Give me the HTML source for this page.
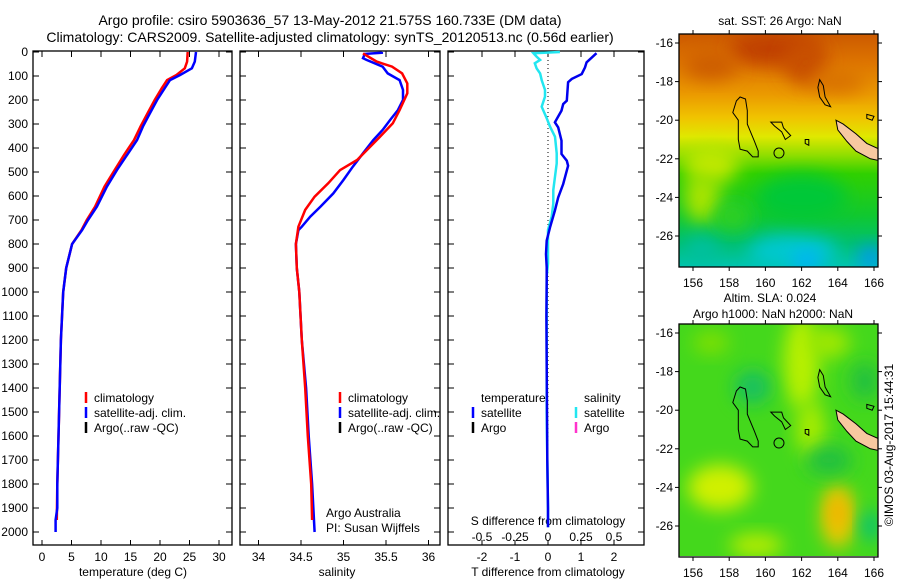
<!DOCTYPE html>
<html><head><meta charset="utf-8"><style>
html,body{margin:0;padding:0;background:#fff;}
svg{display:block;font-family:"Liberation Sans",sans-serif;}
text{fill:#000;}
</style></head><body>
<svg id="c" width="900" height="580" viewBox="0 0 900 580" xmlns="http://www.w3.org/2000/svg">
<defs>
<linearGradient id="sstg" x1="0" y1="0" x2="0" y2="1">
<stop offset="0" stop-color="#cc5a00"/><stop offset="0.12" stop-color="#dd7400"/>
<stop offset="0.26" stop-color="#eb9a00"/><stop offset="0.36" stop-color="#f0c400"/>
<stop offset="0.44" stop-color="#e0e800"/><stop offset="0.52" stop-color="#90de00"/>
<stop offset="0.6" stop-color="#30d000"/><stop offset="0.78" stop-color="#10c830"/>
<stop offset="0.9" stop-color="#00c070"/><stop offset="1" stop-color="#00c4b0"/>
</linearGradient>
<filter id="bl" x="-50%" y="-50%" width="200%" height="200%"><feGaussianBlur stdDeviation="9"/></filter>
<clipPath id="cm1"><rect x="679" y="34" width="199" height="233"/></clipPath>
<clipPath id="cm2"><rect x="679" y="324" width="199" height="232"/></clipPath>
</defs>
<g id="titles">
<text x="330" y="25" font-size="14" text-anchor="middle">Argo profile: csiro 5903636_57 13-May-2012 21.575S 160.733E (DM data)</text>
<text x="330" y="42" font-size="14" text-anchor="middle">Climatology: CARS2009. Satellite-adjusted climatology: synTS_20120513.nc (0.56d earlier)</text>
</g>
<g id="p1"></g>
<g id="p2"></g>
<g id="p3"></g>
<g id="m1"></g>
<g id="m2"></g>
</svg>
<script>
// ---- data ----
const depthTicks=[0,100,200,300,400,500,600,700,800,900,1000,1100,1200,1300,1400,1500,1600,1700,1800,1900,2000];
const tempTicks=[0,5,10,15,20,25,30];
const salTicks=[34,34.5,35,35.5,36];
const tdTicks=[-2,-1,0,1,2];
const sdTicks=[-0.5,-0.25,0,0.25,0.5];
const tempSatDepth=[0,40,68,96,117,151,200,255,311,367,429,492,561,644,700,742,800,900,1000,1200,1500,1800,1900,1950,2000];
const tempSat=[26.1,25.9,25.4,23.4,21.7,20.8,19.5,18.3,17.1,16.1,14.4,12.7,11.0,9.3,7.8,6.8,5.1,4.1,3.6,3.2,2.9,2.6,2.6,2.3,2.3];
const tempClimDepth=[0,40,68,96,117,151,200,255,311,367,429,492,561,644,700,742,800,900,1000,1200,1500,1800,1950];
const tempClim=[24.7,24.6,24.2,22.8,21.2,20.3,19.1,17.9,16.7,15.6,13.9,12.3,10.6,9.0,7.6,6.7,5.1,4.1,3.6,3.2,2.9,2.6,2.5];
const salSatDepth=[0,3,8,26,33,61,89,117,158,200,242,283,325,367,422,478,533,589,644,686,728,742,800,900,1000,1200,1400,1600,1800,2000];
const salSat=[35.45,35.45,35.25,35.23,35.27,35.46,35.52,35.66,35.70,35.70,35.64,35.55,35.46,35.35,35.23,35.11,35.0,34.88,34.73,34.61,34.51,34.47,34.44,34.45,34.48,34.51,34.56,34.59,34.63,34.66];
const salClimDepth=[6,40,61,89,131,172,242,297,353,450,492,547,603,658,728,800,900,1000,1200,1400,1600,1800,1950];
const salClim=[35.23,35.39,35.57,35.69,35.75,35.75,35.66,35.58,35.43,35.16,34.96,34.82,34.66,34.55,34.47,34.44,34.45,34.48,34.51,34.55,34.58,34.62,34.63];
const tdDepth=[5,43,64,92,112,126,203,217,244,293,314,369,425,453,474,494,550,606,661,731,786,842,897,953,1100,1300,1500,1700,1900,1980];
const tdVal=[1.47,1.17,1.12,1.02,0.72,0.61,0.57,0.46,0.41,0.21,0.31,0.41,0.41,0.57,0.61,0.57,0.46,0.31,0.21,0.06,-0.04,-0.06,-0.04,-0.04,-0.05,-0.04,-0.03,-0.02,0.0,0.0];
const sdDepth=[0,5,19,33,47,68,89,117,158,186,228,276,311,353,422,464,519,575,631,686,742,811,881,936,1100,1300,1500,1700,1900,1980];
const sdVal=[0.09,-0.11,-0.086,-0.06,-0.1,-0.086,-0.06,-0.048,-0.023,-0.023,-0.048,-0.01,0.015,0.053,0.066,0.066,0.053,0.04,0.04,0.028,0.0,0.0,0.0,-0.01,-0.01,-0.01,-0.01,-0.005,0.0,0.0];
const mapLonTicks=[156,158,160,162,164,166];
const mapLatTicks=[-16,-18,-20,-22,-24,-26];

const NS='http://www.w3.org/2000/svg';
function mk(p,tag,at){const e=document.createElementNS(NS,tag);for(const k in at)e.setAttribute(k,at[k]);p.appendChild(e);return e;}
const TOP=52,BOT=545,Y0=52,YS=0.24;
const yD=d=>Y0+d*YS;
function panel(g,x0,x1,xf,xt,right){
  const r=mk(g,'rect',{x:x0,y:TOP-1,width:x1-x0,height:BOT-TOP+1,fill:'none',stroke:'#000','stroke-width':1.3});
  
  depthTicks.forEach(d=>{
    const y=yD(d);
    mk(g,'line',{x1:x0,x2:x0+6,y1:y,y2:y,stroke:'#000'});
    mk(g,'line',{x1:x1-6,x2:x1,y1:y,y2:y,stroke:'#000'});
  });
  xt.forEach(v=>{const x=xf(v);
    mk(g,'line',{x1:x,x2:x,y1:TOP-1,y2:TOP+5,stroke:'#000'});
    mk(g,'line',{x1:x,x2:x,y1:BOT-5,y2:BOT,stroke:'#000'});
  });
}
function line(g,xs,ds,xf,col,w,name){
  const pts=xs.map((v,i)=>xf(v).toFixed(1)+','+yD(ds[i]).toFixed(1)).join(' ');
  const p=mk(g,'polyline',{points:pts,fill:'none',stroke:col,'stroke-width':w});
  
}
function txt(g,x,y,s,size,anchor,name){const t=mk(g,'text',{x:x,y:y,'font-size':size,'text-anchor':anchor||'start'});t.textContent=s;
  return t;}
function legItem(g,x,y,col,s,name){mk(g,'line',{x1:x,x2:x,y1:y-10,y2:y+1,stroke:col,'stroke-width':2.5});txt(g,x+8,y,s,12,'start',name);}

// panel 1
const p1=document.getElementById('p1');
const xT=v=>42+v*5.9;
panel(p1,33,232,xT,tempTicks);
depthTicks.forEach(d=>txt(p1,28,yD(d)+4,String(d),12,'end','y-tick-label'));
tempTicks.forEach(v=>txt(p1,xT(v),561,String(v),12,'middle','x-tick-label'));
txt(p1,133,576,'temperature (deg C)',12,'middle','x-axis-title');
line(p1,tempClim,tempClimDepth,xT,'#ff0000',2.5,'climatology-line');
line(p1,tempSat,tempSatDepth,xT,'#0000ff',2.5,'satellite-line');
legItem(p1,86,402,'#ff0000','climatology','legend-climatology');
legItem(p1,86,417,'#0000ff','satellite-adj. clim.','legend-satellite');
legItem(p1,86,432,'#000','Argo(..raw -QC)','legend-argo');

// panel 2
const p2=document.getElementById('p2');
const xS=v=>258.5+(v-34)*85;
panel(p2,240,440,xS,salTicks);
salTicks.forEach(v=>txt(p2,xS(v),561,String(v),12,'middle','x-tick-label'));
txt(p2,337,576,'salinity',12,'middle','x-axis-title');
line(p2,salSat,salSatDepth,xS,'#0000ff',2.5,'satellite-line');
line(p2,salClim,salClimDepth,xS,'#ff0000',2.5,'climatology-line');
legItem(p2,340,402,'#ff0000','climatology','legend-climatology');
legItem(p2,340,417,'#0000ff','satellite-adj. clim.','legend-satellite');
legItem(p2,340,432,'#000','Argo(..raw -QC)','legend-argo');
txt(p2,326,517,'Argo Australia',12,'start','credit-line-1');
txt(p2,326,532,'PI: Susan Wijffels',12,'start','credit-line-2');

// panel 3
const p3=document.getElementById('p3');
const xTD=v=>548+v*33, xSD=v=>548+v*132;
panel(p3,448,644,xTD,tdTicks);
mk(p3,'line',{x1:548,x2:548,y1:52,y2:500,stroke:'#000','stroke-dasharray':'1,3'});
tdTicks.forEach(v=>txt(p3,xTD(v),561,String(v),12,'middle','x-tick-label'));
sdTicks.forEach(v=>txt(p3,xSD(v),541,String(v),12,'middle','s-tick-label'));
txt(p3,548,525,'S difference from climatology',12,'middle','s-axis-title');
txt(p3,548,576,'T difference from climatology',12,'middle','x-axis-title');
line(p3,sdVal,sdDepth,xSD,'#22e6f0',2.5,'salinity-diff-line');
line(p3,tdVal,tdDepth,xTD,'#0000ee',2.5,'temperature-diff-line');
txt(p3,481,402,'temperature',12,'start','legend-temperature-head');
txt(p3,584,402,'salinity',12,'start','legend-salinity-head');
legItem(p3,473,417,'#0000ff','satellite','legend-t-satellite');
legItem(p3,473,432,'#000','Argo','legend-t-argo');
legItem(p3,576,417,'#22e6f0','satellite','legend-s-satellite');
legItem(p3,576,432,'#ff33cc','Argo','legend-s-argo');

// maps
function drawMap(g,yTop,clip,kind){
  const X=lon=>693+(lon-156)*18.1, Y=lat=>yTop+9+(-16-lat)*19.3;
  const gg=mk(g,'g',{'clip-path':'url(#'+clip+')'});
  if(kind===1){
    mk(gg,'rect',{x:679,y:yTop,width:199,height:233,fill:'url(#sstg)'});
    const blobs=[[160.5,-16.3,2.5,0.9,'#c04000'],[162.2,-17,1.2,1.2,'#c85000'],[157,-17.2,1.5,0.7,'#cc5c00'],[164,-18,1.5,0.6,'#d87000'],
      [157,-22.3,1.5,1.0,'#c0e800'],[156.5,-24,1.0,1.3,'#a8e400'],[161.5,-26.8,2.5,0.9,'#00c8d0'],[162.3,-27.3,0.8,0.5,'#00b0ff'],
      [165.8,-27.1,0.6,0.6,'#0090ff'],[156.5,-26.7,1.0,0.7,'#00c0a0'],[162,-24,2.5,1.2,'#00c838'],[158.2,-25,1.0,0.7,'#30d020']];
    blobs.forEach(b=>mk(gg,'ellipse',{cx:X(b[0]),cy:Y(b[1]),rx:b[2]*18,ry:b[3]*19,fill:b[4],filter:'url(#bl)'}));
  } else {
    mk(gg,'rect',{x:679,y:yTop,width:199,height:233,fill:'#44d81c'});
    const blobs=[[162,-17.5,1.0,2.5,'#b8f000'],[162.5,-21,0.8,1.5,'#a8ec00'],[163.5,-16.5,1.2,0.8,'#a0e800'],[157.5,-24,1.8,1.2,'#d0f000'],
      [159.5,-27,1.5,0.6,'#b8ec00'],[164,-25.5,0.9,1.7,'#f0c800'],[164,-25.3,0.5,0.8,'#f0b000'],[159.3,-18.8,1.0,0.9,'#18c060'],
      [165.8,-26,0.5,0.8,'#00c080'],[163.5,-22.6,1.3,0.8,'#20c040'],[157,-16.5,1,0.6,'#80e000'],[165.5,-18.5,0.8,1.0,'#20c040']];
    blobs.forEach(b=>mk(gg,'ellipse',{cx:X(b[0]),cy:Y(b[1]),rx:b[2]*18,ry:b[3]*19,fill:b[4],filter:'url(#bl)'}));
  }
  const poly=(pts,fill,name)=>{const p=mk(gg,'polygon',{points:pts.map(q=>X(q[0]).toFixed(1)+','+Y(q[1]).toFixed(1)).join(' '),fill:fill,stroke:'#000','stroke-width':1});
    };
  poly([[158.6,-18.8],[158.9,-18.9],[159.0,-19.5],[159.0,-20.2],[159.4,-21.1],[159.6,-21.6],[159.6,-21.9],[159.3,-21.9],[159.0,-21.6],[158.6,-21.5],[158.5,-21.0],[158.5,-20.0],[158.2,-19.6],[158.4,-19.0]],'none','reef-contour');
  poly([[160.3,-20.1],[160.9,-20.1],[161.0,-20.4],[161.4,-20.8],[161.1,-21.0],[160.9,-20.6],[160.5,-20.3]],'none','reef-contour');
  poly([[163.0,-17.9],[163.2,-18.2],[163.3,-18.8],[163.6,-19.3],[163.3,-19.2],[163.0,-18.8],[162.9,-18.3]],'none','reef-contour');
  poly([[162.2,-21.0],[162.4,-21.0],[162.4,-21.3],[162.2,-21.2]],'none','reef-contour');
  poly([[165.6,-19.7],[166.0,-19.8],[165.9,-20.0],[165.6,-19.9]],'none','reef-contour');
  mk(gg,'ellipse',{cx:X(160.75),cy:Y(-21.7),rx:5,ry:5,fill:'none',stroke:'#000'});
  poly([[163.9,-20.0],[164.3,-20.2],[165.0,-20.7],[165.6,-21.2],[166.3,-21.5],[166.3,-22.1],[165.8,-22.0],[165.0,-21.6],[164.5,-21.1],[164.0,-20.5]],'#f8c8a0','new-caledonia');
  const fr=mk(g,'rect',{x:679,y:yTop,width:199,height:233,fill:'none',stroke:'#000','stroke-width':1.3});
  
  mapLonTicks.forEach(v=>{const x=X(v);mk(g,'line',{x1:x,x2:x,y1:yTop-4,y2:yTop,stroke:'#000'});mk(g,'line',{x1:x,x2:x,y1:yTop+233,y2:yTop+237,stroke:'#000'});
    txt(g,x,yTop+253,String(v),12,'middle','map-lon-label');});
  mapLatTicks.forEach(v=>{const y=Y(v);mk(g,'line',{x1:675,x2:679,y1:y,y2:y,stroke:'#000'});mk(g,'line',{x1:878,x2:882,y1:y,y2:y,stroke:'#000'});
    txt(g,673,y+4,String(v),12,'end','map-lat-label');});
}
const m1=document.getElementById('m1'),m2=document.getElementById('m2');
drawMap(m1,34,'cm1',1);
drawMap(m2,324,'cm2',2);
txt(m1,780,25,'sat. SST: 26 Argo: NaN',12,'middle','sst-map-title');
txt(m2,770,302,'Altim. SLA: 0.024',12,'middle','sla-map-title');
txt(m2,773,318,'Argo h1000: NaN h2000: NaN',12,'middle','sla-map-subtitle');
const c=txt(m2,0,0,'©IMOS 03-Aug-2017 15:44:31',12,'middle','timestamp');
c.setAttribute('transform','translate(893,445) rotate(-90)');
</script>
</body></html>
